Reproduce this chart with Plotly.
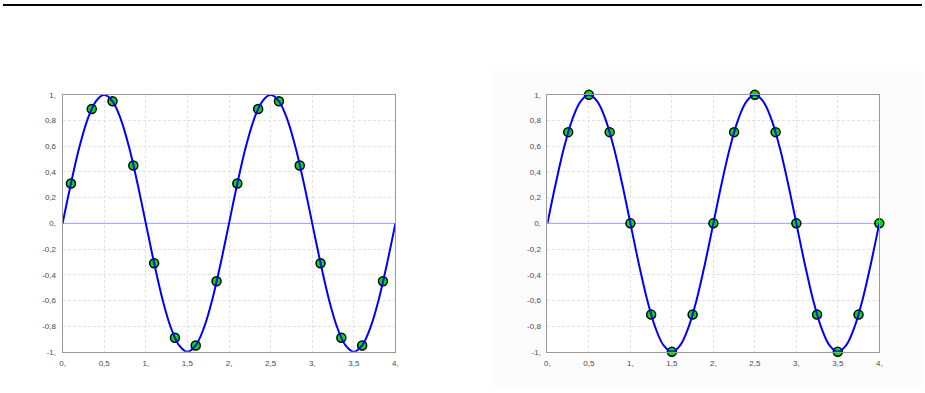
import plotly.graph_objects as go

# Smooth curve samples (same in both panels)
curve_x = [0.0, 0.1, 0.2, 0.3, 0.4, 0.5, 0.6, 0.7, 0.8, 0.9,
           1.0, 1.1, 1.2, 1.3, 1.4, 1.5, 1.6, 1.7, 1.8, 1.9,
           2.0, 2.1, 2.2, 2.3, 2.4, 2.5, 2.6, 2.7, 2.8, 2.9,
           3.0, 3.1, 3.2, 3.3, 3.4, 3.5, 3.6, 3.7, 3.8, 3.9, 4.0]
curve_y = [0, 0.31, 0.59, 0.81, 0.95, 1, 0.95, 0.81, 0.59, 0.31,
           0, -0.31, -0.59, -0.81, -0.95, -1, -0.95, -0.81, -0.59, -0.31,
           0, 0.31, 0.59, 0.81, 0.95, 1, 0.95, 0.81, 0.59, 0.31,
           0, -0.31, -0.59, -0.81, -0.95, -1, -0.95, -0.81, -0.59, -0.31, 0]

# Left panel sample points
left_x = [0.1, 0.35, 0.6, 0.85, 1.1, 1.35, 1.6, 1.85,
          2.1, 2.35, 2.6, 2.85, 3.1, 3.35, 3.6, 3.85]
left_y = [0.31, 0.89, 0.95, 0.45, -0.31, -0.89, -0.95, -0.45,
          0.31, 0.89, 0.95, 0.45, -0.31, -0.89, -0.95, -0.45]

# Right panel sample points
right_x = [0.25, 0.5, 0.75, 1.0, 1.25, 1.5, 1.75, 2.0,
           2.25, 2.5, 2.75, 3.0, 3.25, 3.5, 3.75, 4.0]
right_y = [0.71, 1, 0.71, 0, -0.71, -1, -0.71, 0,
           0.71, 1, 0.71, 0, -0.71, -1, -0.71, 0]

# Zero reference line
zero_x = [0, 4]
zero_y = [0, 0]

x_tickvals = [0, 0.5, 1, 1.5, 2, 2.5, 3, 3.5, 4]
x_ticktext = ["0,", "0,5", "1,", "1,5", "2,", "2,5", "3,", "3,5", "4,"]
y_tickvals = [-1, -0.8, -0.6, -0.4, -0.2, 0, 0.2, 0.4, 0.6, 0.8, 1]
y_ticktext = ["-1,", "-0,8", "-0,6", "-0,4", "-0,2", "0,", "0,2", "0,4", "0,6", "0,8", "1,"]

W, H = 925, 393
fig = go.Figure()

marker_style = dict(size=9, color="#00e000", line=dict(color="black", width=1.5))
line_style = dict(color="#0000ff", width=2, shape="spline", smoothing=1.0)

for xa, ya, mx, my in [("x", "y", left_x, left_y), ("x2", "y2", right_x, right_y)]:
    fig.add_trace(go.Scatter(x=zero_x, y=zero_y, mode="lines",
                             line=dict(color="#a0a0ff", width=1),
                             xaxis=xa, yaxis=ya, showlegend=False, hoverinfo="skip"))
    fig.add_trace(go.Scatter(x=mx, y=my, mode="markers", marker=marker_style,
                             xaxis=xa, yaxis=ya, cliponaxis=False, showlegend=False,
                             hoverinfo="skip"))
    fig.add_trace(go.Scatter(x=curve_x, y=curve_y, mode="lines", line=line_style,
                             xaxis=xa, yaxis=ya, showlegend=False, hoverinfo="skip"))

axis_common = dict(showgrid=True, gridcolor="#e2e2e2", griddash="3px,2px", gridwidth=1,
                   showline=True, linecolor="#999999", linewidth=1, mirror=True,
                   zeroline=False, ticks="",
                   tickfont=dict(family="Liberation Sans, Arial", size=8, color="#4a4a4a"))

xd1 = [60 / W, 395 / W]
xd2 = [548 / W, 882 / W]
yd = [1 - 356 / H, 1 - 93 / H]

fig.update_layout(
    width=W, height=H,
    margin=dict(l=0, r=0, t=0, b=0),
    paper_bgcolor="white", plot_bgcolor="white",
    xaxis=dict(domain=xd1, range=[0, 4], tickvals=x_tickvals, ticktext=x_ticktext,
               anchor="y", ticklabelstandoff=4, **axis_common),
    yaxis=dict(domain=yd, range=[-1, 1], tickvals=y_tickvals, ticktext=y_ticktext,
               anchor="x", ticklabelstandoff=4, **axis_common),
    xaxis2=dict(domain=xd2, range=[0, 4], tickvals=x_tickvals, ticktext=x_ticktext,
                anchor="y2", ticklabelstandoff=4, **axis_common),
    yaxis2=dict(domain=yd, range=[-1, 1], tickvals=y_tickvals, ticktext=y_ticktext,
                anchor="x2", ticklabelstandoff=4, **axis_common),
    shapes=[
        dict(type="rect", xref="paper", yref="paper", x0=0, x1=1, y0=1 - 2 / H, y1=1,
             fillcolor="black", line=dict(width=0), layer="above"),
        dict(type="rect", xref="paper", yref="paper", x0=491 / W, x1=1, y0=0, y1=1 - 68 / H,
             fillcolor="#fcfcfc", line=dict(width=0), layer="below"),
        dict(type="rect", xref="paper", yref="paper", x0=xd2[0], x1=xd2[1], y0=yd[0], y1=yd[1],
             fillcolor="white", line=dict(width=0), layer="below"),
    ],
)

fig.write_html("out.html")
